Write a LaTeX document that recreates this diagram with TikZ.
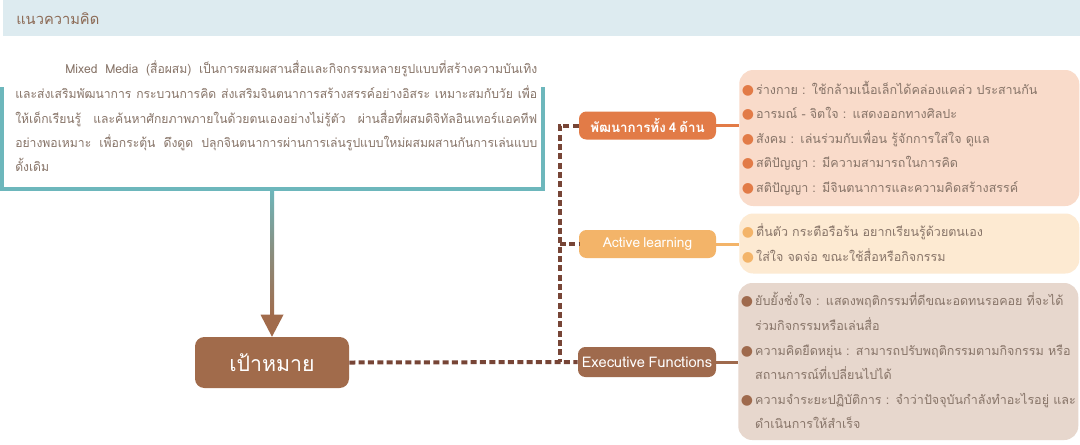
\documentclass[tikz,border=0pt]{standalone}
\usepackage{fontspec}
\usetikzlibrary{calc}
\newfontfamily\thaifont[Script=Thai, WordSpace=0.7]{Loma}
\newfontfamily\narrowthai[Script=Thai, WordSpace=0.7, FakeStretch=0.97]{Loma}
\newfontfamily\symfont{DejaVu Sans}

\definecolor{headbg}{HTML}{DDEBF0}
\definecolor{headtxt}{HTML}{8C6A55}
\definecolor{bodytxt}{HTML}{877468}
\definecolor{framec}{HTML}{6DB7BC}
\definecolor{goalc}{HTML}{A16B4B}
\definecolor{devc}{HTML}{E27B47}
\definecolor{actc}{HTML}{F3B469}
\definecolor{execc}{HTML}{9F6A4D}
\definecolor{dotc}{HTML}{774536}
\definecolor{boxa}{HTML}{F9DBCA}
\definecolor{boxb}{HTML}{FDEAD2}
\definecolor{boxc}{HTML}{E7D7CD}

% coloured round bullet and an invisible one for hanging lines
\newcommand{\bul}[1]{{\symfont\fontsize{10.5}{12}\selectfont\textcolor{#1}{●}}\hspace{1.5pt}}
\newcommand{\hang}{\phantom{{\symfont\fontsize{10.5}{12}\selectfont ●}\hspace{1.5pt}}}

\tikzset{
  bodyline/.style={anchor=base west, inner sep=0pt, text=bodytxt,
    font=\narrowthai\fontsize{9.4}{12}\selectfont},
  branch/.style={rounded corners=5.5pt, minimum width=102.75pt,
    minimum height=21pt, inner sep=0pt, text=white,
    font=\thaifont\fontsize{10.3}{12}\selectfont},
  goalbox/.style={rounded corners=7pt, fill=goalc, minimum width=115.5pt,
    minimum height=38.25pt, inner sep=0pt, text=white,
    font=\thaifont\fontsize{16}{20}\selectfont},
  infobox/.style={anchor=west, rounded corners=10.5pt, minimum width=255pt,
    text width=251pt, inner xsep=2pt, inner ysep=0pt, align=left,
    text=bodytxt, font=\thaifont\fontsize{9.4}{18.4}\selectfont},
  dots/.style={draw=dotc, line width=3pt, dash pattern=on 4.5pt off 2.5pt},
  stub/.style={line width=2.25pt},
}

\begin{document}
\begin{tikzpicture}[x=0.75pt, y=-0.75pt]
\useasboundingbox (0,0) rectangle (1080,444);
\fill[white] (0,0) rectangle (1080,444);

% heading band
\fill[headbg] (3,0) rectangle (1080,35.5);
\node[anchor=west, inner sep=0pt, text=headtxt,
  font=\thaifont\fontsize{11}{14}\selectfont] (head) at (16,18.5) {แนวความคิด};

% paragraph, one justified line per node
\node[bodyline] (p1) at (65,73) {\makebox[354pt][s]{Mixed Media (สื่อผสม) เป็นการผสมผสานสื่อและกิจกรรมหลายรูปแบบที่สร้างความบันเทิง}};
\node[bodyline] (p2) at (15,98) {\makebox[391.5pt][s]{และส่งเสริมพัฒนาการ กระบวนการคิด ส่งเสริมจินตนาการสร้างสรรค์อย่างอิสระ เหมาะสมกับวัย เพื่อ}};
\node[bodyline] (p3) at (15,123) {\makebox[391.5pt][s]{ให้เด็กเรียนรู้ และค้นหาศักยภาพภายในด้วยตนเองอย่างไม่รู้ตัว ผ่านสื่อที่ผสมดิจิทัลอินเทอร์แอคทีฟ}};
\node[bodyline] (p4) at (15,147) {\makebox[391.5pt][s]{อย่างพอเหมาะ เพื่อกระตุ้น ดึงดูด ปลุกจินตนาการผ่านการเล่นรูปแบบใหม่ผสมผสานกันการเล่นแบบ}};
\node[bodyline] (p5) at (15,171) {ดั้งเดิม};

% open frame under the paragraph
\draw[framec, line width=3pt] (2,87) -- (2,188.5) -- (543,188.5) -- (543,87);
\coordinate (fb) at (272,188.5);

% goal node and the shaded arrow into it
\node[goalbox] (goal) at (272,362.5) {เป้าหมาย};
\shade[top color=framec, bottom color=goalc, middle color=framec!45!goalc]
  ($(fb)+(-2,0)$) rectangle ($(goal.north)+(2,-20)$);
\fill[goalc] ($(goal.north)+(-11.5,-22)$) -- ($(goal.north)+(11.5,-22)$)
  -- (goal.north) -- cycle;

% branch nodes
\node[branch, fill=devc, font=\thaifont\bfseries\fontsize{10}{12}\selectfont]
  (dev) at (647.5,125.5) {พัฒนาการทั้ง 4 ด้าน};
\node[branch, fill=actc] (act) at (647.5,244) {Active learning};
\node[branch, fill=execc, minimum width=103.5pt, minimum height=22.5pt,
  font=\thaifont\fontsize{11}{12}\selectfont]
  (exec) at (647,362) {Executive Functions};

% detail boxes
\node[infobox, fill=boxa, minimum height=102pt] (ba) at (739,138) {%
\bul{devc}ร่างกาย : ใช้กล้ามเนื้อเล็กได้คล่องแคล่ว ประสานกัน\\
\bul{devc}อารมณ์ - จิตใจ : แสดงออกทางศิลปะ\\
\bul{devc}สังคม : เล่นร่วมกับเพื่อน รู้จักการใส่ใจ ดูแล\\
\bul{devc}สติปัญญา : มีความสามารถในการคิด\\
\bul{devc}สติปัญญา : มีจินตนาการและความคิดสร้างสรรค์};
\node[infobox, fill=boxb, minimum height=45pt] (bb) at (739,243.5) {%
\bul{actc}ตื่นตัว กระตือรือร้น อยากเรียนรู้ด้วยตนเอง\\
\bul{actc}ใส่ใจ จดจ่อ ขณะใช้สื่อหรือกิจกรรม};
\node[infobox, fill=boxc, minimum height=117.75pt] (bc) at (738,361.5) {%
\bul{execc}ยับยั้งชั่งใจ : แสดงพฤติกรรมที่ดีขณะอดทนรอคอย ที่จะได้\\
\hang ร่วมกิจกรรมหรือเล่นสื่อ\\
\bul{execc}ความคิดยืดหยุ่น : สามารถปรับพฤติกรรมตามกิจกรรม หรือ\\
\hang สถานการณ์ที่เปลี่ยนไปได้\\
\bul{execc}\mbox{ความจำระยะปฏิบัติการ : จำว่าปัจจุบันกำลังทำอะไรอยู่ และ}\\
\hang ดำเนินการให้สำเร็จ};

% solid links from branches to their boxes
\draw[stub, devc] (dev.east) -- (dev.east -| ba.west);
\draw[stub, actc] (act.east) -- (act.east -| bb.west);
\draw[stub, execc] (exec.east) -- (exec.east -| bc.west);

% dotted trunk from the goal to the branches
\coordinate (jx) at (560,0);
\draw[dots] (goal.east) -- (exec.west);
\draw[dots] (dev.west) -- (dev.west -| jx) -- (exec.west -| jx);
\draw[dots] (act.west -| jx) -- (act.west);
\end{tikzpicture}
\end{document}
